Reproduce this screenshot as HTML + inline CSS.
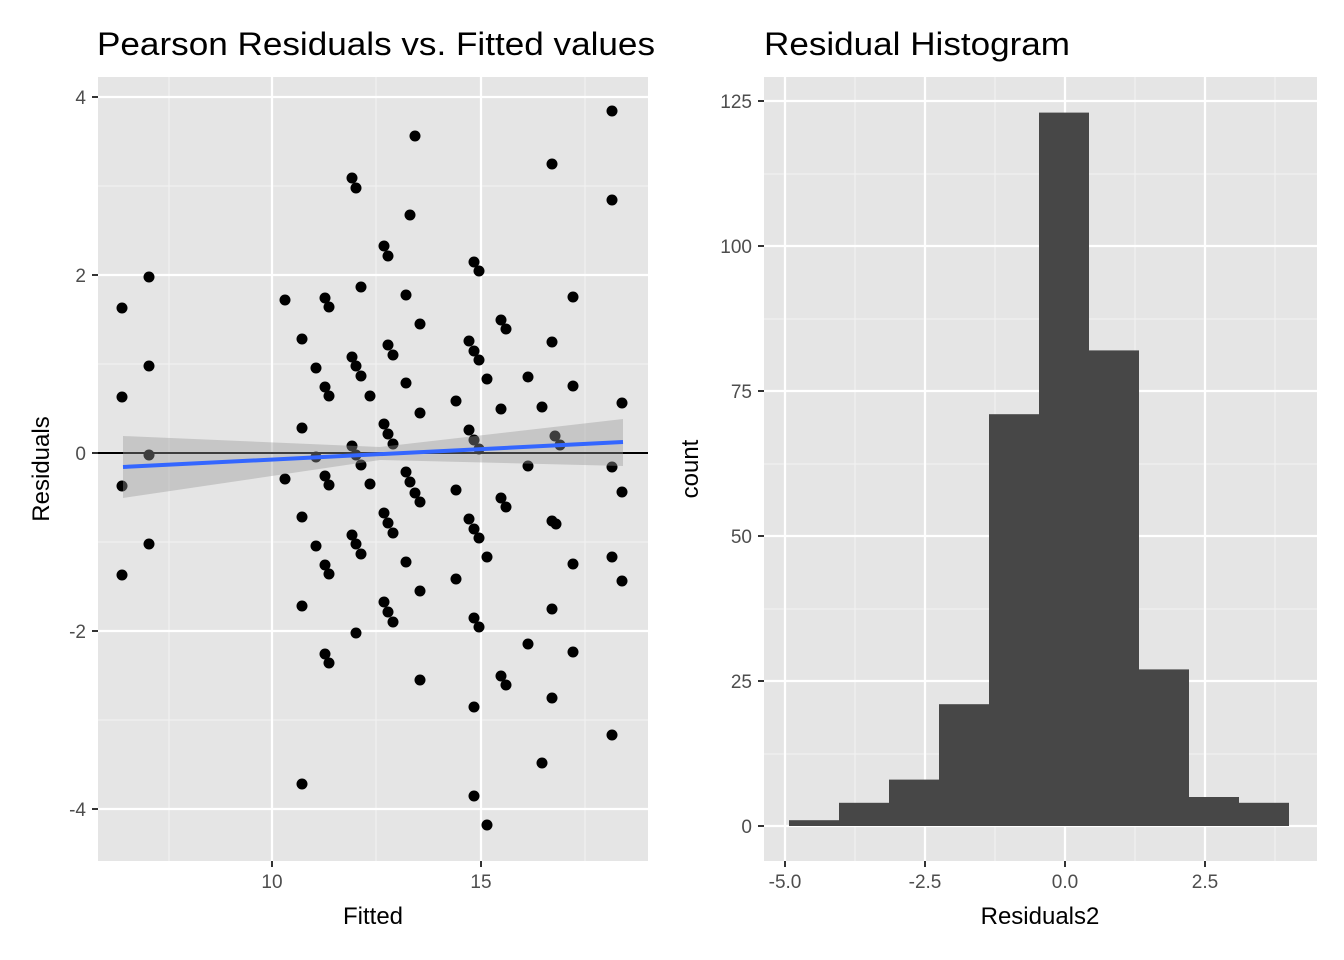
<!DOCTYPE html>
<html><head><meta charset="utf-8"><style>body{margin:0;background:#fff}svg{display:block}text{font-family:"Liberation Sans",Arial,sans-serif}</style></head><body>
<svg width="1344" height="960" xmlns="http://www.w3.org/2000/svg">
<rect width="1344" height="960" fill="#fff"/>
<rect x="98" y="77" width="550" height="784" fill="#e5e5e5"/>
<g stroke="#f2f2f2" stroke-width="1.1">
<line x1="98" x2="648" y1="186" y2="186"/><line x1="98" x2="648" y1="364" y2="364"/><line x1="98" x2="648" y1="542" y2="542"/><line x1="98" x2="648" y1="720" y2="720"/>
<line x1="169" x2="169" y1="77" y2="861"/><line x1="376" x2="376" y1="77" y2="861"/><line x1="585" x2="585" y1="77" y2="861"/>
</g>
<g stroke="#fff" stroke-width="2.2">
<line x1="98" x2="648" y1="97" y2="97"/><line x1="98" x2="648" y1="275" y2="275"/><line x1="98" x2="648" y1="453" y2="453"/><line x1="98" x2="648" y1="631" y2="631"/><line x1="98" x2="648" y1="809" y2="809"/>
<line x1="272" x2="272" y1="77" y2="861"/><line x1="481" x2="481" y1="77" y2="861"/>
</g>
<g fill="#000">
<circle cx="122" cy="308" r="5.5"/><circle cx="122" cy="397" r="5.5"/><circle cx="122" cy="486" r="5.5"/><circle cx="122" cy="575" r="5.5"/><circle cx="149" cy="277" r="5.5"/><circle cx="149" cy="366" r="5.5"/><circle cx="149" cy="455" r="5.5"/><circle cx="149" cy="544" r="5.5"/>
<circle cx="285" cy="300" r="5.5"/><circle cx="285" cy="479" r="5.5"/><circle cx="302" cy="339" r="5.5"/><circle cx="302" cy="428" r="5.5"/><circle cx="302" cy="517" r="5.5"/><circle cx="302" cy="606" r="5.5"/><circle cx="302" cy="784" r="5.5"/>
<circle cx="316" cy="368" r="5.5"/><circle cx="316" cy="457" r="5.5"/><circle cx="316" cy="546" r="5.5"/><circle cx="325" cy="298" r="5.5"/><circle cx="325" cy="387" r="5.5"/><circle cx="325" cy="476" r="5.5"/><circle cx="325" cy="565" r="5.5"/><circle cx="325" cy="654" r="5.5"/>
<circle cx="329" cy="307" r="5.5"/><circle cx="329" cy="396" r="5.5"/><circle cx="329" cy="485" r="5.5"/><circle cx="329" cy="574" r="5.5"/><circle cx="329" cy="663" r="5.5"/>
<circle cx="352" cy="178" r="5.5"/><circle cx="352" cy="357" r="5.5"/><circle cx="352" cy="446" r="5.5"/><circle cx="352" cy="535" r="5.5"/><circle cx="356" cy="188" r="5.5"/><circle cx="356" cy="366" r="5.5"/><circle cx="356" cy="455" r="5.5"/><circle cx="356" cy="544" r="5.5"/><circle cx="356" cy="633" r="5.5"/>
<circle cx="361" cy="287" r="5.5"/><circle cx="361" cy="376" r="5.5"/><circle cx="361" cy="465" r="5.5"/><circle cx="361" cy="554" r="5.5"/><circle cx="370" cy="396" r="5.5"/><circle cx="370" cy="484" r="5.5"/>
<circle cx="384" cy="246" r="5.5"/><circle cx="384" cy="424" r="5.5"/><circle cx="384" cy="513" r="5.5"/><circle cx="384" cy="602" r="5.5"/><circle cx="388" cy="256" r="5.5"/><circle cx="388" cy="345" r="5.5"/><circle cx="388" cy="434" r="5.5"/><circle cx="388" cy="523" r="5.5"/><circle cx="388" cy="612" r="5.5"/>
<circle cx="393" cy="355" r="5.5"/><circle cx="393" cy="444" r="5.5"/><circle cx="393" cy="533" r="5.5"/><circle cx="393" cy="622" r="5.5"/>
<circle cx="406" cy="295" r="5.5"/><circle cx="406" cy="383" r="5.5"/><circle cx="406" cy="472" r="5.5"/><circle cx="406" cy="562" r="5.5"/><circle cx="410" cy="215" r="5.5"/><circle cx="410" cy="482" r="5.5"/><circle cx="415" cy="136" r="5.5"/><circle cx="415" cy="493" r="5.5"/>
<circle cx="420" cy="324" r="5.5"/><circle cx="420" cy="413" r="5.5"/><circle cx="420" cy="502" r="5.5"/><circle cx="420" cy="591" r="5.5"/><circle cx="420" cy="680" r="5.5"/>
<circle cx="456" cy="401" r="5.5"/><circle cx="456" cy="490" r="5.5"/><circle cx="456" cy="579" r="5.5"/>
<circle cx="469" cy="341" r="5.5"/><circle cx="469" cy="430" r="5.5"/><circle cx="469" cy="519" r="5.5"/>
<circle cx="474" cy="262" r="5.5"/><circle cx="474" cy="351" r="5.5"/><circle cx="474" cy="440" r="5.5"/><circle cx="474" cy="529" r="5.5"/><circle cx="474" cy="618" r="5.5"/><circle cx="474" cy="707" r="5.5"/><circle cx="474" cy="796" r="5.5"/>
<circle cx="479" cy="271" r="5.5"/><circle cx="479" cy="360" r="5.5"/><circle cx="479" cy="449" r="5.5"/><circle cx="479" cy="538" r="5.5"/><circle cx="479" cy="627" r="5.5"/>
<circle cx="487" cy="379" r="5.5"/><circle cx="487" cy="557" r="5.5"/><circle cx="487" cy="825" r="5.5"/>
<circle cx="501" cy="320" r="5.5"/><circle cx="501" cy="409" r="5.5"/><circle cx="501" cy="498" r="5.5"/><circle cx="501" cy="676" r="5.5"/>
<circle cx="506" cy="329" r="5.5"/><circle cx="506" cy="507" r="5.5"/><circle cx="506" cy="685" r="5.5"/>
<circle cx="528" cy="377" r="5.5"/><circle cx="528" cy="466" r="5.5"/><circle cx="528" cy="644" r="5.5"/>
<circle cx="542" cy="407" r="5.5"/><circle cx="542" cy="763" r="5.5"/>
<circle cx="552" cy="164" r="5.5"/><circle cx="552" cy="342" r="5.5"/><circle cx="555" cy="436" r="5.5"/><circle cx="552" cy="521" r="5.5"/><circle cx="552" cy="609" r="5.5"/><circle cx="552" cy="698" r="5.5"/>
<circle cx="556" cy="524" r="5.5"/><circle cx="560" cy="445" r="5.5"/>
<circle cx="573" cy="297" r="5.5"/><circle cx="573" cy="386" r="5.5"/><circle cx="573" cy="564" r="5.5"/><circle cx="573" cy="652" r="5.5"/>
<circle cx="612" cy="111" r="5.5"/><circle cx="612" cy="200" r="5.5"/><circle cx="612" cy="467" r="5.5"/><circle cx="612" cy="557" r="5.5"/><circle cx="612" cy="735" r="5.5"/>
<circle cx="622" cy="403" r="5.5"/><circle cx="622" cy="492" r="5.5"/><circle cx="622" cy="581" r="5.5"/>
</g>
<line x1="98" x2="648" y1="453" y2="453" stroke="#000" stroke-width="2"/>
<path d="M123 436 L380 447 L623 419 L623 466 L380 460 L123 498 Z" fill="#999" fill-opacity="0.4"/>
<line x1="123" y1="467" x2="623" y2="442" stroke="#3366ff" stroke-width="4"/>
<g stroke="#333" stroke-width="2"><line x1="92" x2="98" y1="97" y2="97"/><line x1="92" x2="98" y1="275" y2="275"/><line x1="92" x2="98" y1="453" y2="453"/><line x1="92" x2="98" y1="631" y2="631"/><line x1="92" x2="98" y1="809" y2="809"/><line x1="272" x2="272" y1="861" y2="867"/><line x1="481" x2="481" y1="861" y2="867"/></g>
<g fill="#4d4d4d" font-size="19" text-anchor="end"><text x="86" y="104">4</text><text x="86" y="282">2</text><text x="86" y="460">0</text><text x="86" y="638">-2</text><text x="86" y="816">-4</text></g>
<g fill="#4d4d4d" font-size="19" text-anchor="middle"><text x="272" y="888">10</text><text x="481" y="888">15</text></g>
<text x="373" y="924" font-size="24" text-anchor="middle">Fitted</text>
<text transform="translate(49,469) rotate(-90)" font-size="24" text-anchor="middle">Residuals</text>
<text x="97" y="55" font-size="32" textLength="558" lengthAdjust="spacingAndGlyphs">Pearson Residuals vs. Fitted values</text>
<rect x="764" y="77" width="553" height="784" fill="#e5e5e5"/>
<g stroke="#f2f2f2" stroke-width="1.1">
<line x1="764" x2="1317" y1="174" y2="174"/><line x1="764" x2="1317" y1="319" y2="319"/><line x1="764" x2="1317" y1="464" y2="464"/><line x1="764" x2="1317" y1="609" y2="609"/><line x1="764" x2="1317" y1="754" y2="754"/>
<line x1="855" x2="855" y1="77" y2="861"/><line x1="995" x2="995" y1="77" y2="861"/><line x1="1135" x2="1135" y1="77" y2="861"/><line x1="1275" x2="1275" y1="77" y2="861"/>
</g>
<g stroke="#fff" stroke-width="2.2">
<line x1="764" x2="1317" y1="101" y2="101"/><line x1="764" x2="1317" y1="246" y2="246"/><line x1="764" x2="1317" y1="391" y2="391"/><line x1="764" x2="1317" y1="536" y2="536"/><line x1="764" x2="1317" y1="681" y2="681"/><line x1="764" x2="1317" y1="826" y2="826"/>
<line x1="785" x2="785" y1="77" y2="861"/><line x1="925" x2="925" y1="77" y2="861"/><line x1="1065" x2="1065" y1="77" y2="861"/><line x1="1205" x2="1205" y1="77" y2="861"/>
</g>
<g fill="#474747">
<rect x="789" y="820.2" width="50" height="5.8"/><rect x="839" y="802.8" width="50" height="23.2"/><rect x="889" y="779.6" width="50" height="46.4"/><rect x="939" y="704.2" width="50" height="121.8"/><rect x="989" y="414.2" width="50" height="411.8"/><rect x="1039" y="112.6" width="50" height="713.4"/><rect x="1089" y="350.4" width="50" height="475.6"/><rect x="1139" y="669.4" width="50" height="156.6"/><rect x="1189" y="797" width="50" height="29"/><rect x="1239" y="802.8" width="50" height="23.2"/>
</g>
<g stroke="#333" stroke-width="2"><line x1="758" x2="764" y1="101" y2="101"/><line x1="758" x2="764" y1="246" y2="246"/><line x1="758" x2="764" y1="391" y2="391"/><line x1="758" x2="764" y1="536" y2="536"/><line x1="758" x2="764" y1="681" y2="681"/><line x1="758" x2="764" y1="826" y2="826"/>
<line x1="785" x2="785" y1="861" y2="867"/><line x1="925" x2="925" y1="861" y2="867"/><line x1="1065" x2="1065" y1="861" y2="867"/><line x1="1205" x2="1205" y1="861" y2="867"/></g>
<g fill="#4d4d4d" font-size="19" text-anchor="end"><text x="752" y="108">125</text><text x="752" y="253">100</text><text x="752" y="398">75</text><text x="752" y="543">50</text><text x="752" y="688">25</text><text x="752" y="833">0</text></g>
<g fill="#4d4d4d" font-size="19" text-anchor="middle"><text x="785" y="888">-5.0</text><text x="925" y="888">-2.5</text><text x="1065" y="888">0.0</text><text x="1205" y="888">2.5</text></g>
<text x="1040" y="924" font-size="24" text-anchor="middle">Residuals2</text>
<text transform="translate(698,469) rotate(-90)" font-size="24" text-anchor="middle">count</text>
<text x="764" y="55" font-size="32" textLength="306" lengthAdjust="spacingAndGlyphs">Residual Histogram</text>
</svg>
</body></html>
